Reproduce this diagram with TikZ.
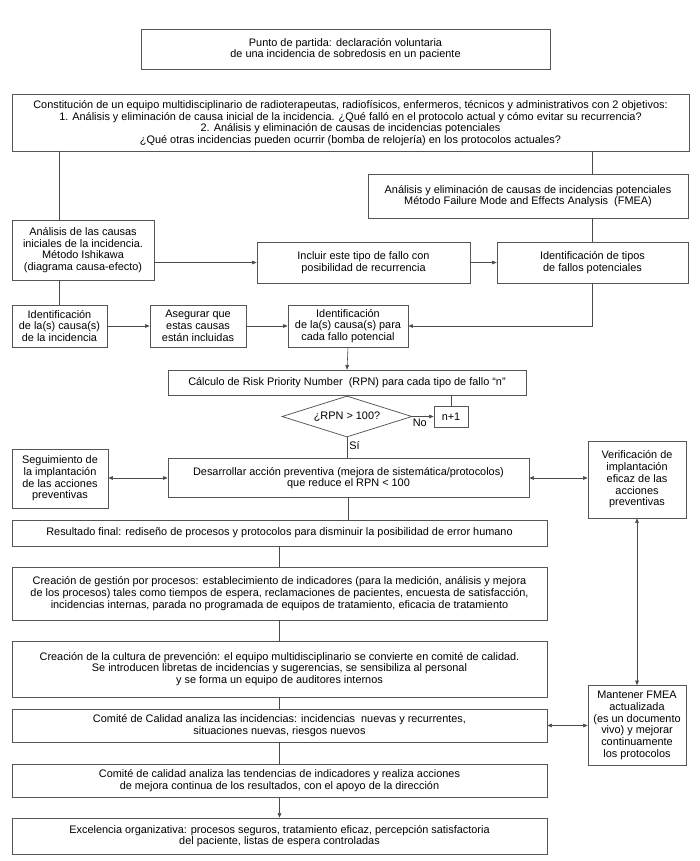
\documentclass[tikz,border=0pt]{standalone}
\usepackage{fontspec}
\setmainfont{Liberation Sans}
\usetikzlibrary{arrows.meta,shapes.geometric,calc}
\definecolor{linegray}{HTML}{4A4A4A}
\definecolor{boxgray}{HTML}{555555}
\tikzset{
  box/.style={draw=boxgray, line width=0.75pt, align=center, inner sep=2pt, font=\fontsize{10.9}{11.7}\selectfont},
  sz/.style 2 args={minimum width=#1pt, minimum height=#2pt},
  conn/.style={draw=linegray, line width=0.6pt},
  arr/.style={conn, -{Triangle[length=4.5pt,width=3.6pt]}},
  darr/.style={conn, {Triangle[length=4.5pt,width=3.6pt]}-{Triangle[length=4.5pt,width=3.6pt]}},
  lab/.style={font=\fontsize{10.9}{11.7}\selectfont, inner sep=1pt}
}
\begin{document}
\begin{tikzpicture}[x=1pt,y=-1pt]
\useasboundingbox (0,0) rectangle (700,861);
\fill[white] (0,0) rectangle (700,861);

\node[box, sz={409}{40}] (B1) at (345.5,49) {Punto de partida: declaración voluntaria\\de una incidencia de sobredosis en un paciente};
\node[box, sz={677}{57}] (B2) at (350.5,123) {Constitución de un equipo multidisciplinario de radioterapeutas, radiofísicos, enfermeros, técnicos y administrativos con 2 objetivos:\\1. Análisis y eliminación de causa inicial de la incidencia. ¿Qué falló en el protocolo actual y cómo evitar su recurrencia?\\2. Análisis y eliminación de causas de incidencias potenciales\\¿Qué otras incidencias pueden ocurrir (bomba de relojería) en los protocolos actuales?};
\node[box, sz={320}{44}] (FMEA) at (528,196) {Análisis y eliminación de causas de incidencias potenciales\\Método Failure Mode and Effects Analysis\ \ (FMEA)};
\node[box, sz={142}{60}] (Ana) at (83,250) {Análisis de las causas\\iniciales de la incidencia.\\Método Ishikawa\\(diagrama causa-efecto)};
\node[box, sz={213}{41}] (Incl) at (363.5,262.5) {Incluir este tipo de fallo con\\posibilidad de recurrencia};
\node[box, sz={191}{41}] (IdT) at (592.5,262.5) {Identificación de tipos\\de fallos potenciales};
\node[box, sz={95}{42}] (Id1) at (59.5,326) {Identificación\\de la(s) causa(s)\\de la incidencia};
\node[box, sz={96}{42}] (Aseg) at (198,326) {Asegurar que\\estas causas\\están incluidas};
\node[box, sz={120}{42}] (Id3) at (348,326) {Identificación\\de la(s) causa(s) para\\cada fallo potencial};
\node[box, sz={358}{25}] (RPN) at (347,382.5) {Cálculo de Risk Priority Number\ \ (RPN) para cada tipo de fallo “n”};
\node[box, diamond, aspect=3, inner sep=1pt, sz={130}{41}] (Dia) at (347,416.5) {¿RPN > 100?};
\node[box, sz={34}{21}] (N1) at (451,416.5) {n+1};
\node[box, sz={96}{59}] (Seg) at (60,478.5) {Seguimiento de\\la implantación\\de las acciones\\preventivas};
\node[box, sz={361}{39}] (Des) at (348.5,478) {Desarrollar acción preventiva (mejora de sistemática/protocolos)\\que reduce el RPN < 100};
\node[box, sz={98}{77}] (Ver) at (637,479.5) {Verificación de\\implantación\\eficaz de las\\acciones\\preventivas};
\node[box, sz={535}{26}] (Res) at (279.5,533) {Resultado final: rediseño de procesos y protocolos para disminuir la posibilidad de error humano};
\node[box, sz={535}{53}] (Ges) at (279.5,593.5) {Creación de gestión por procesos: establecimiento de indicadores (para la medición, análisis y mejora\\de los procesos) tales como tiempos de espera, reclamaciones de pacientes, encuesta de satisfacción,\\incidencias internas, parada no programada de equipos de tratamiento, eficacia de tratamiento};
\node[box, sz={535}{56}] (Cul) at (279.5,669) {Creación de la cultura de prevención: el equipo multidisciplinario se convierte en comité de calidad.\\Se introducen libretas de incidencias y sugerencias, se sensibiliza al personal\\y se forma un equipo de auditores internos};
\node[box, sz={535}{33}] (Com1) at (279.5,725.5) {Comité de Calidad analiza las incidencias: incidencias\ \ nuevas y recurrentes,\\situaciones nuevas, riesgos nuevos};
\node[box, sz={535}{33}] (Com2) at (279.5,780.5) {Comité de calidad analiza las tendencias de indicadores y realiza acciones\\de mejora continua de los resultados, con el apoyo de la dirección};
\node[box, sz={535}{36}] (Exc) at (279.5,836) {Excelencia organizativa: procesos seguros, tratamiento eficaz, percepción satisfactoria\\del paciente, listas de espera controladas};
\node[box, sz={98}{80}] (Man) at (637,725.5) {Mantener FMEA\\actualizada\\(es un documento\\vivo) y mejorar\\continuamente\\los protocolos};

% connectors
\draw[conn] (B2.south -| Id1.north) -- (Ana.north -| Id1.north);
\draw[conn] (Ana.south -| Id1.north) -- (Id1.north);
\draw[conn] (B2.south -| IdT.north) -- (FMEA.north -| IdT.north);
\draw[conn] (FMEA.south -| IdT.north) -- (IdT.north);
\draw[arr] (Ana.east |- Incl.west) -- (Incl.west);
\draw[arr] (Incl.east) -- (IdT.west);
\draw[arr] (Id1.east) -- (Aseg.west);
\draw[arr] (Aseg.east) -- (Id3.west);
\draw[arr] (IdT.south) |- (Id3.east);
\draw[arr] (Id3.south) -- (RPN.north);
\draw[arr] (Dia.east) -- (N1.west) node[lab, pos=0.35, below, yshift=-1pt] (No) {No};
\draw[conn] (N1.north) -- (N1.north |- RPN.south);
\draw[conn] (Dia.south) -- (Dia.south |- Des.north) node[lab, pos=0.4, right, xshift=1pt] (Si) {Sí};
\draw[darr] (Seg.east |- Des.west) -- (Des.west);
\draw[darr] (Des.east) -- (Des.east -| Ver.west);
\draw[conn] (Des.south) -- (Des.south |- Res.north);
\draw[conn] (Res.south) -- (Ges.north);
\draw[conn] (Ges.south) -- (Cul.north);
\draw[conn] (Cul.south) -- (Com1.north);
\draw[conn] (Com1.south) -- (Com2.north);
\draw[arr] (Com2.south) -- (Exc.north);
\draw[darr] (Ver.south) -- (Man.north);
\draw[darr] (Com1.east) -- (Com1.east -| Man.west);
\end{tikzpicture}
\end{document}
